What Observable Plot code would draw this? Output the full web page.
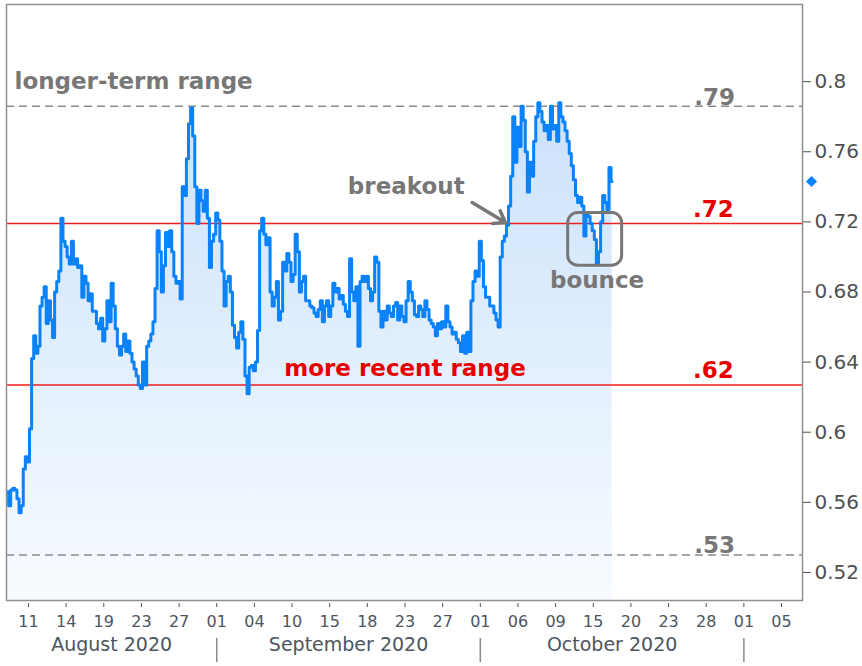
<!DOCTYPE html>
<html><head><meta charset="utf-8">
<script src="https://cdn.jsdelivr.net/npm/d3@7"></script>
<script src="https://cdn.jsdelivr.net/npm/@observablehq/plot@0.6"></script>
<style>body{margin:0;background:#fff} svg{display:block}</style>
</head><body><div id="chart"></div>
<script>
// Tick labels: one tick every 3 trading days
const dayLabels = ["11","14","19","23","27","01","04","10","15","18","23","27","01","06","09","15","20","23","28","01","05"];
const monthNames = ["August 2020","September 2020","October 2020"];
const monthStartTickIdx = [5, 12, 19]; // Sep 01, Oct 01, Nov 01
// Yield series, one reading every 1/6 trading day, first reading 10 steps before the first tick
const yields = [
0.566,0.558, 0.567,0.568, 0.567,0.562, 0.554,0.558, 0.579,0.586,
0.583,0.602, 0.642,0.655, 0.645,0.649, 0.672,0.677, 0.683,0.662,
0.675,0.664, 0.654,0.680, 0.686,0.692, 0.722,0.709, 0.706,0.700,
0.696,0.709, 0.696,0.699, 0.694,0.695, 0.677,0.689, 0.685,0.675,
0.679,0.669, 0.669,0.662, 0.659,0.665, 0.652,0.659, 0.675,0.663,
0.685,0.672, 0.659,0.649, 0.644,0.649, 0.656,0.646, 0.652,0.645,
0.640,0.636, 0.632,0.627, 0.625,0.640, 0.627,0.649, 0.652,0.656,
0.663,0.682, 0.715,0.703, 0.680,0.695, 0.714,0.706, 0.715,0.703,
0.689,0.685, 0.686,0.676, 0.740,0.735, 0.756,0.776, 0.785,0.769,
0.740,0.719, 0.738,0.732, 0.726,0.738, 0.722,0.694, 0.709,0.713,
0.725,0.721, 0.709,0.692, 0.672,0.686, 0.689,0.680, 0.661,0.654,
0.648,0.657, 0.663,0.653, 0.632,0.622, 0.637,0.638, 0.635,0.640,
0.658,0.715, 0.722,0.713, 0.707,0.711, 0.680,0.672, 0.677,0.686,
0.664,0.669, 0.697,0.692, 0.702,0.697, 0.686,0.690, 0.713,0.703,
0.680,0.686, 0.689,0.675, 0.675,0.672, 0.671,0.668, 0.666,0.670,
0.675,0.663, 0.672,0.675, 0.666,0.672, 0.685,0.680, 0.682,0.676,
0.678,0.673, 0.669,0.666, 0.699,0.680, 0.675,0.683, 0.649,0.686,
0.689,0.686, 0.689,0.682, 0.675,0.680, 0.700,0.697, 0.669,0.660,
0.669,0.664, 0.672,0.668, 0.666,0.672, 0.674,0.664, 0.672,0.666,
0.663,0.675, 0.686,0.680, 0.675,0.667, 0.666,0.672, 0.670,0.666,
0.675,0.670, 0.664,0.662, 0.660,0.655, 0.662,0.659, 0.663,0.660,
0.672,0.663, 0.660,0.656, 0.657,0.653, 0.651,0.646, 0.655,0.645,
0.657,0.646, 0.675,0.686, 0.692,0.689, 0.709,0.698, 0.683,0.677,
0.677,0.672, 0.672,0.668, 0.664,0.660, 0.700,0.709, 0.712,0.718,
0.729,0.746, 0.780,0.754, 0.774,0.763, 0.786,0.778, 0.760,0.737,
0.754,0.746, 0.766,0.780, 0.788,0.783, 0.777,0.772, 0.775,0.767,
0.786,0.773, 0.775,0.766, 0.788,0.780, 0.777,0.772, 0.766,0.759,
0.752,0.744, 0.735,0.731, 0.734,0.729, 0.712,0.725, 0.723,0.719,
0.715,0.710, 0.696,0.703, 0.720,0.735, 0.731,0.727, 0.751,0.743
];
const lastYield = 0.743;
const yTicks = [0.52,0.56,0.6,0.64,0.68,0.72,0.76,0.8];
const yDomain = [0.504, 0.844];
const xDomain = [-1.75, 61.67];
const recentLevels = [0.719, 0.627];
const recentLabels = [".72", ".62"];
const longLevels = [0.786, 0.530];
const longLabels = [".79", ".53"];
// bounce box (trading-day units / yield)
const bounceBox = {t1: 43.0, t2: 47.3, v1: 0.695, v2: 0.725};
const breakoutArrow = {t1: 35.35, v1: 0.731, t2: 38.0, v2: 0.7196};

const series = yields.map((v, i) => ({t: (i - 10) / 6, v}));
const dayTicks = dayLabels.map((_, k) => k * 3);
const sepTicks = monthStartTickIdx.map(k => k * 3);
const bounds = [xDomain[0], ...sepTicks];
const months = monthNames.map((name, i) => ({name, center: (bounds[i] + bounds[i + 1]) / 2}));

const gray = "#777777", red = "#e60000", blue = "#0a82fa";
const F = "DejaVu Sans";

const chart = Plot.plot({
  width: 862, height: 666,
  marginLeft: 6, marginRight: 60, marginTop: 4, marginBottom: 66,
  style: {fontFamily: F, background: "#fff"},
  x: {domain: xDomain, axis: null},
  y: {domain: yDomain, axis: null},
  marks: [
    Plot.areaY(series, {x: "t", y1: yDomain[0], y2: "v", curve: "step", fill: "url(#areaGrad)"}),
    Plot.ruleY(longLevels, {stroke: "#8a8a8a", strokeWidth: 1.5, strokeDasharray: "8,5"}),
    Plot.ruleY(recentLevels, {stroke: "#f01e1e", strokeWidth: 1.5}),
    Plot.line(series, {x: "t", y: "v", curve: "step", stroke: blue, strokeWidth: 3}),
    Plot.frame({stroke: "#8f8f8f", strokeWidth: 1.5}),
    Plot.axisY({anchor: "right", ticks: yTicks, tickSize: 8, tickPadding: 4, fontSize: 20, tickFormat: d => String(d), label: null, color: "#505050"}),
    Plot.axisX({ticks: dayTicks, tickFormat: d => dayLabels[Math.round(d / 3)], tickSize: 4, dy: 3, tickPadding: 8, fontSize: 16, label: null, color: "#4c5560"}),
    Plot.axisX({ticks: sepTicks, tickFormat: () => "", tickSize: 24, dy: 38, label: null, stroke: "#8a8a8a", strokeWidth: 1.5}),
    Plot.text(months, {x: "center", text: "name", frameAnchor: "bottom", dy: 50, fontSize: 19, fill: "#4c5560"}),
    Plot.dot([lastYield], {y: d => d, frameAnchor: "right", dx: 9, symbol: "diamond2", r: 5, fill: blue}),
    // annotations
    Plot.text(["longer-term range"], {frameAnchor: "left", y: longLevels[0], dx: 8, dy: -25, textAnchor: "start", fontSize: 23, fontWeight: "bold", fill: gray}),
    Plot.text(longLevels, {x: 56.3, y: d => d, text: (d, i) => longLabels[i], textAnchor: "end", dy: -9, fontSize: 23, fontWeight: "bold", fill: gray}),
    Plot.text(recentLevels, {x: 56.2, y: d => d, text: (d, i) => recentLabels[i], textAnchor: "end", dy: -14, fontSize: 23, fontWeight: "bold", fill: red}),
    Plot.text(["more recent range"], {x: 30, y: recentLevels[1], dy: -16, fontSize: 23, fontWeight: "bold", fill: red}),
    Plot.text(["breakout"], {x: 30.1, y: recentLevels[0], dy: -37, fontSize: 23, fontWeight: "bold", fill: gray}),
    Plot.text(["bounce"], {x: 45.3, y: recentLevels[0], dy: 57, fontSize: 23, fontWeight: "bold", fill: gray}),
    Plot.arrow([breakoutArrow], {x1: "t1", y1: "v1", x2: "t2", y2: "v2", stroke: gray, strokeWidth: 3.5, headLength: 12, headAngle: 70}),
    Plot.rect([bounceBox], {x1: "t1", x2: "t2", y1: "v1", y2: "v2", rx: 10, fill: "none", stroke: gray, strokeWidth: 3})
  ]
});

const defs = d3.select(chart).insert("defs", ":first-child");
const g = defs.append("linearGradient").attr("id", "areaGrad").attr("x1", 0).attr("y1", 0).attr("x2", 0).attr("y2", 1);
g.append("stop").attr("offset", "0%").attr("stop-color", "#cbe2fb");
g.append("stop").attr("offset", "100%").attr("stop-color", "#f7fbff");
document.getElementById("chart").append(chart);
</script>
</body></html>
